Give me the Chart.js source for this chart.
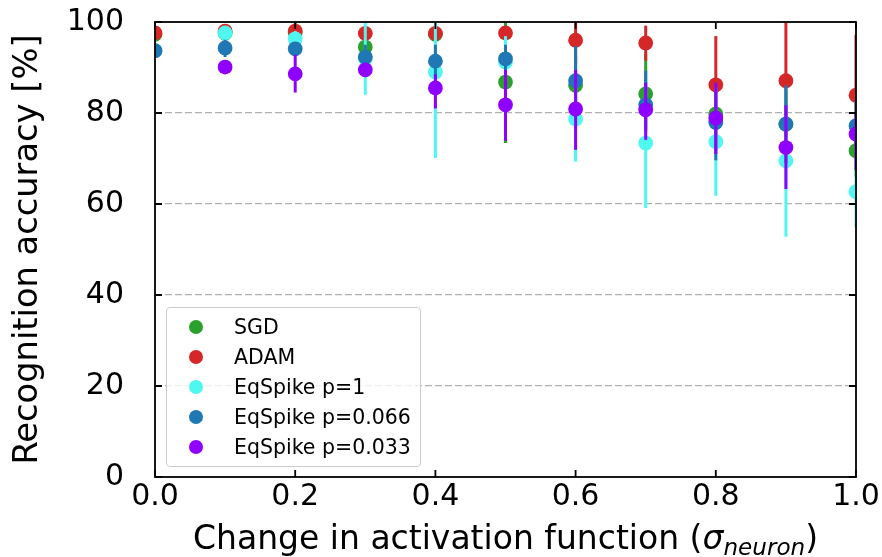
<!DOCTYPE html>
<html>
<head>
<meta charset="utf-8">
<script src="https://cdn.jsdelivr.net/npm/chart.js@4.4.1/dist/chart.umd.min.js"></script>
<style>
  body { margin: 0; background: #fff; }
  #wrap { position: relative; width: 882px; height: 557px; font-family: "DejaVu Sans"; }
  #legend {
    position: absolute; left: 166px; top: 307px; width: 255px; height: 160px;
    box-sizing: border-box; border: 1px solid #cccccc; border-radius: 4px;
    background: rgba(255, 255, 255, 0.8); padding-top: 4px;
  }
  .row { height: 30px; display: flex; align-items: center; font-size: 20.5px; color: #000; }
  .dot { width: 14px; height: 14px; border-radius: 50%; margin-left: 22px; margin-right: 31px; }
  #xtitle {
    position: absolute; left: 155px; width: 701px; top: 521px;
    text-align: center; font-size: 33px; line-height: 33px; color: #000;
  }
  #xtitle sub { font-size: 0.7em; line-height: 0; vertical-align: -0.25em; }
</style>
</head>
<body>
<div id="wrap">
  <canvas id="chart" width="882" height="557"></canvas>
  <div id="legend"></div>
  <div id="xtitle">Change in activation function (<i>σ</i><sub><i>neuron</i></sub>)</div>
</div>

<script>
// DATA
const sigmaValues = [0.0, 0.1, 0.2, 0.3, 0.4, 0.5, 0.6, 0.7, 0.8, 0.9, 1.0];
const xTickValues = [0.0, 0.2, 0.4, 0.6, 0.8, 1.0];
const yTickValues = [0, 20, 40, 60, 80, 100];

const seriesNames = ["SGD", "ADAM", "EqSpike p=1", "EqSpike p=0.066", "EqSpike p=0.033"];
const seriesColors = ["#2ca02c", "#d62728", "#4ff7f0", "#1f77b4", "#8f00ff"];

const sgdAcc  = [97.3, 97.5, 97.7, 94.5, 97.3, 86.8, 86.1, 84.2, 79.8, 77.5, 71.7];
const sgdLow  = [96.5, 96.8, 97.0, 92.5, 96.5, 73.4, 79.5, 76.5, 72.0, 70.0, 66.0];
const sgdHigh = [98.0, 98.2, 101, 96.5, 98.0, 101, 92.5, 93.0, 87.5, 85.0, 77.0];

const adamAcc  = [97.6, 98.0, 98.0, 97.5, 97.5, 97.6, 96.0, 95.4, 86.2, 87.1, 83.9];
const adamLow  = [97.0, 97.4, 97.3, 96.9, 96.9, 96.9, 91.0, 91.5, 77.0, 75.0, 72.0];
const adamHigh = [98.2, 98.5, 98.7, 98.2, 98.2, 98.3, 101, 99.2, 96.9, 101, 97.2];

const p1Acc  = [93.7, 97.6, 96.3, 92.0, 89.0, 91.2, 78.7, 73.4, 73.7, 69.5, 62.7];
const p1Low  = [92.8, 96.8, 94.5, 84.0, 70.1, 86.0, 69.3, 59.1, 61.8, 52.8, 54.9];
const p1High = [94.6, 98.4, 98.0, 101, 101, 96.9, 88.0, 87.0, 85.5, 85.0, 70.0];

const p066Acc  = [93.7, 94.3, 94.1, 92.3, 91.4, 91.9, 87.1, 81.8, 77.9, 77.6, 77.2];
const p066Low  = [92.8, 92.3, 93.0, 90.0, 86.0, 86.0, 80.0, 76.0, 69.6, 69.0, 71.0];
const p066High = [94.6, 96.1, 95.2, 95.0, 95.0, 95.0, 94.7, 89.3, 86.0, 86.1, 83.0];

const p033Acc  = [null, 90.1, 88.6, 89.5, 85.5, 81.8, 80.9, 80.7, 78.9, 72.4, 75.4];
const p033Low  = [null, 89.3, 84.5, 88.0, 81.0, 73.9, 71.9, 74.1, 71.0, 63.3, 67.5];
const p033High = [null, 90.9, 92.8, 91.0, 88.5, 89.5, 89.5, 86.7, 86.7, 81.7, 80.0];

const accs  = [sgdAcc, adamAcc, p1Acc, p066Acc, p033Acc];
const lows  = [sgdLow, adamLow, p1Low, p066Low, p033Low];
const highs = [sgdHigh, adamHigh, p1High, p066High, p033High];

// DATASETS
let datasets = seriesNames.map((name, k) => ({
    label: name,
    data: sigmaValues.map((s, i) => ({ x: s, y: accs[k][i] })),
    errLow: lows[k],
    errHigh: highs[k],
    backgroundColor: seriesColors[k],
    borderWidth: 0,
    pointRadius: 7.4,
    pointHoverRadius: 7.4,
    order: seriesNames.length - k   // later series on top
}));

// error bars drawn just before their own markers
const errorBars = {
    id: "errorBars",
    beforeDatasetDraw(chart, args) {
        let ds = chart.data.datasets[args.index];
        let ctx = chart.ctx;
        let a = chart.chartArea;
        let x = chart.scales.x, y = chart.scales.y;
        ctx.save();
        ctx.beginPath();
        ctx.rect(a.left, a.top, a.right - a.left, a.bottom - a.top);
        ctx.clip();
        ctx.strokeStyle = ds.backgroundColor;
        ctx.lineWidth = 3;
        ds.data.forEach((p, i) => {
            if (p.y == null) return;
            let px = x.getPixelForValue(p.x);
            ctx.beginPath();
            ctx.moveTo(px, y.getPixelForValue(ds.errLow[i]));
            ctx.lineTo(px, y.getPixelForValue(ds.errHigh[i]));
            ctx.stroke();
        });
        ctx.restore();
    }
};

// box + inward ticks on all four sides
const frame = {
    id: "frame",
    afterDatasetsDraw(chart) {
        let ctx = chart.ctx;
        let a = chart.chartArea;
        let x = chart.scales.x, y = chart.scales.y;
        ctx.save();
        ctx.strokeStyle = "#000";
        ctx.lineWidth = 1.8;
        ctx.strokeRect(a.left, a.top, a.right - a.left, a.bottom - a.top);
        ctx.beginPath();
        xTickValues.forEach(v => {
            let px = x.getPixelForValue(v);
            ctx.moveTo(px, a.bottom); ctx.lineTo(px, a.bottom - 7);
            ctx.moveTo(px, a.top); ctx.lineTo(px, a.top + 7);
        });
        yTickValues.forEach(v => {
            let py = y.getPixelForValue(v);
            ctx.moveTo(a.left, py); ctx.lineTo(a.left + 7, py);
            ctx.moveTo(a.right, py); ctx.lineTo(a.right - 7, py);
        });
        ctx.stroke();
        ctx.restore();
    }
};

new Chart(document.getElementById("chart"), {
    type: "scatter",
    data: { datasets: datasets },
    options: {
        responsive: false,
        animation: false,
        events: [],
        layout: { padding: { top: 22, right: 26, left: 0, bottom: 0 } },
        plugins: { legend: { display: false }, tooltip: { enabled: false } },
        scales: {
            x: {
                type: "linear", min: 0, max: 1,
                afterFit: s => { s.height = 80; s.paddingLeft = 0; s.paddingRight = 0; },
                afterBuildTicks: s => { s.ticks = xTickValues.map(v => ({ value: v })); },
                grid: { display: false, drawTicks: false },
                border: { display: false },
                ticks: {
                    padding: 2, color: "#000",
                    font: { family: "DejaVu Sans", size: 30 },
                    callback: v => v.toFixed(1)
                }
            },
            y: {
                min: 0, max: 100,
                afterFit: s => { s.width = 155; s.paddingTop = 0; s.paddingBottom = 0; },
                afterBuildTicks: s => { s.ticks = yTickValues.map(v => ({ value: v })); },
                grid: {
                    drawTicks: false,
                    lineWidth: 1.2,
                    color: c => (c.tick && (c.tick.value === 0 || c.tick.value === 100)) ? "rgba(0,0,0,0)" : "#b0b0b0"
                },
                border: { display: false, dash: [7, 3] },
                ticks: {
                    padding: 31, color: "#000",
                    font: { family: "DejaVu Sans", size: 30 }
                },
                title: {
                    display: true, text: "Recognition accuracy [%]", color: "#000",
                    font: { family: "DejaVu Sans", size: 33.7 },
                    padding: { top: 8, bottom: 0 }
                }
            }
        }
    },
    plugins: [errorBars, frame]
});

// LEGEND
let legend = document.getElementById("legend");
seriesNames.forEach((name, k) => {
    let row = document.createElement("div");
    row.className = "row";
    row.innerHTML = `<span class="dot" style="background:${seriesColors[k]}"></span>${name}`;
    legend.appendChild(row);
});
</script>
</body>
</html>
